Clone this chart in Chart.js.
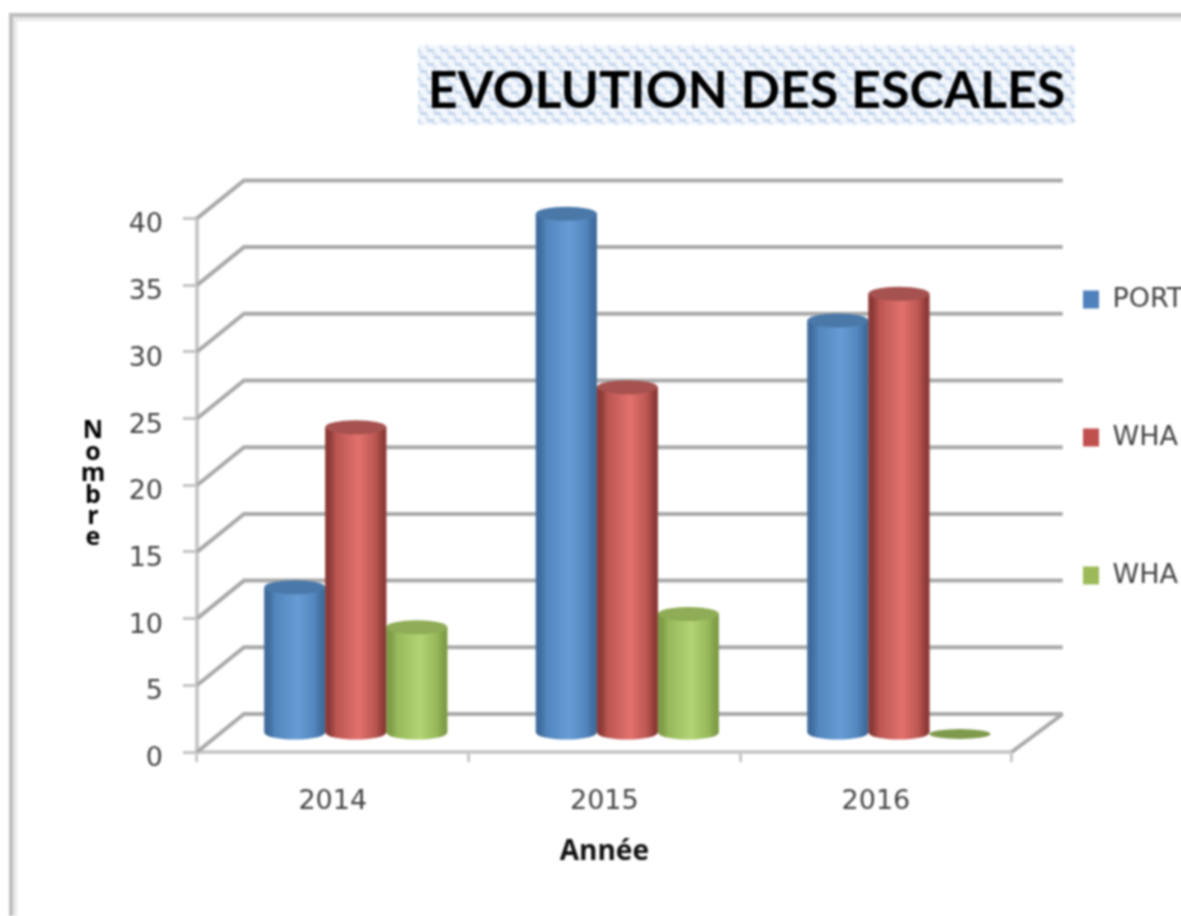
<!DOCTYPE html>
<html><head><meta charset="utf-8">
<style>html,body{margin:0;padding:0;background:#fff;overflow:hidden;width:1181px;height:916px}
canvas{display:block;filter:blur(1px)}</style>
<script src="https://cdn.jsdelivr.net/npm/chart.js@4/dist/chart.umd.min.js"></script>
</head><body><canvas id="c" width="1233" height="916"></canvas>
<script>
const categories = ["2014", "2015", "2016"];
const seriesNames = ["PORT", "WHA", "WHA"];
const port = [11, 39, 31];
const wharfA = [23, 26, 33];
const wharfB = [8, 9, 0];
const chartTitle = "EVOLUTION DES ESCALES";
const xTitle = "Année";
const yTitle = "Nombre";
const flat = ["#5b8fc8", "#cf5f5a", "#9bbb59"];
const shades = [
  {dark:"#3f6c9c", mid:"#5286bd", light:"#669cd5", cap:"#4a79a9"},
  {dark:"#8c3a37", mid:"#bb5652", light:"#e2716c", cap:"#a65250"},
  {dark:"#7f9c48", mid:"#98b95b", light:"#b3d473", cap:"#8fac56"}
];
const legendFill = ["#4f81bd", "#c0504d", "#9bbb59"];
const BAR_DX = 23, BAR_DY = -18, WALL_DX = 47, WALL_DY = -38, CAP = 7;

const dec = {
  id: "dec",
  afterLayout(chart) {
    const t = chart.titleBlock; t.left = 418; t.right = 1075;
    const l = chart.legend; l.left = 1083 - l.options.labels.padding; l.top = 299 - 13 - l.options.labels.padding;
  },
  beforeDraw(chart) {
    const c = chart.ctx;
    c.save();
    c.fillStyle = "#e8e8e8"; c.fillRect(13, 17, chart.width, 4); c.fillRect(13, 17, 4, 900);
    c.fillStyle = "#bdbdbd"; c.fillRect(9, 13, chart.width, 4); c.fillRect(9, 13, 4, 903);
    const p = document.createElement("canvas"); p.width = 14; p.height = 14;
    const q = p.getContext("2d");
    q.fillStyle = "#f4f8fd"; q.fillRect(0, 0, 14, 14);
    q.fillStyle = "#c3d5ec"; q.fillRect(0, 0, 7, 3); q.fillRect(7, 7, 7, 3);
    q.fillStyle = "#dde7f4"; q.fillRect(5, 3, 4, 4); q.fillRect(0, 10, 3, 4); q.fillRect(12, 10, 2, 4);
    c.fillStyle = c.createPattern(p, "repeat");
    c.fillRect(418, 45, 657, 80);
    c.restore();
  },
  beforeDatasetsDraw(chart) {
    const c = chart.ctx, y = chart.scales.y, a = chart.chartArea;
    c.save();
    c.strokeStyle = "#a9a9a9"; c.lineWidth = 4; c.lineJoin = "miter";
    y.ticks.forEach((t, i) => {
      const py = y.getPixelForTick(i);
      c.beginPath(); c.moveTo(a.left, py); c.lineTo(a.left + WALL_DX, py + WALL_DY);
      c.lineTo(a.right + WALL_DX + 4, py + WALL_DY); c.stroke();
    });
    const by = y.getPixelForValue(0);
    c.beginPath(); c.moveTo(a.right, by); c.lineTo(a.right + WALL_DX + 4, by + WALL_DY); c.stroke();
    c.restore();
    c.save(); c.translate(BAR_DX, BAR_DY);
  },
  afterDatasetsDraw(chart) {
    const c = chart.ctx;
    chart.data.datasets.forEach((ds, di) => {
      const s = shades[di];
      chart.getDatasetMeta(di).data.forEach((el) => {
        const w = el.width, l = el.x - w / 2, r = el.x + w / 2;
        if (el.y >= el.base - 0.5) {
          c.fillStyle = "#7f9a4d"; c.beginPath();
          c.ellipse(el.x, el.base, w / 2, 5, 0, 0, Math.PI * 2); c.fill();
          return;
        }
        const g = c.createLinearGradient(l, 0, r, 0);
        g.addColorStop(0, s.dark); g.addColorStop(0.07, s.dark); g.addColorStop(0.18, s.mid);
        g.addColorStop(0.55, s.light); g.addColorStop(0.82, s.mid); g.addColorStop(0.95, s.dark); g.addColorStop(1, s.dark);
        c.fillStyle = g;
        c.beginPath();
        c.moveTo(l, el.y); c.lineTo(l, el.base);
        c.ellipse(el.x, el.base, w / 2, CAP, 0, Math.PI, 0, true);
        c.lineTo(r, el.y); c.closePath(); c.fill();
        c.fillStyle = s.cap; c.beginPath();
        c.ellipse(el.x, el.y, w / 2, CAP, 0, 0, Math.PI * 2); c.fill();
      });
    });
    c.restore();
  },
  afterDraw(chart) {
    const c = chart.ctx;
    c.save();
    c.font = "bold 25px 'Open Sans'"; c.fillStyle = "#000"; c.textAlign = "center"; c.textBaseline = "middle";
    const ys = [431, 453, 474, 496, 517, 538];
    [...yTitle].forEach((ch, i) => c.fillText(ch, 93, ys[i]));
    c.restore();
  }
};

new Chart(document.getElementById("c"), {
  type: "bar",
  data: {
    labels: categories,
    datasets: [
      {label: seriesNames[0], data: port, backgroundColor: flat[0]},
      {label: seriesNames[1], data: wharfA, backgroundColor: flat[1]},
      {label: seriesNames[2], data: wharfB, backgroundColor: flat[2]}
    ]
  },
  options: {
    responsive: false, animation: false,
    layout: {padding: {right: 0}},
    datasets: {bar: {barPercentage: 1, categoryPercentage: 0.674, borderWidth: 0}},
    plugins: {
      tooltip: {enabled: false},
      title: {display: true, text: chartTitle, color: "#000",
        font: {family: "Lato", weight: "bold", size: 52, lineHeight: 1.2},
        padding: {top: 60, bottom: 96}},
      legend: {position: "right", align: "start",
        labels: {boxWidth: 16, boxHeight: 18, padding: 111, color: "#444",
          font: {family: "DejaVu Sans", size: 27},
          generateLabels(chart) {
            return chart.data.datasets.map((d, i) => ({text: d.label, fillStyle: legendFill[i], strokeStyle: legendFill[i], lineWidth: 0, datasetIndex: i, fontColor: "#444"}));
          }}}
    },
    scales: {
      x: {
        afterFit(s) { s.height = 164; },
        border: {color: "#c9c9c9", width: 4},
        grid: {display: true, drawOnChartArea: false, drawTicks: true, tickLength: 10, color: "#c9c9c9", lineWidth: 3},
        ticks: {color: "#444", font: {family: "DejaVu Sans", size: 27}, padding: 24, maxRotation: 0},
        title: {display: true, text: xTitle, color: "#111", font: {family: "Open Sans", weight: "bold", size: 28}, padding: {top: 0, bottom: 47}}
      },
      y: {
        min: 0, max: 40,
        afterFit(s) { s.width = 197; },
        border: {color: "#c9c9c9", width: 4},
        grid: {display: true, drawOnChartArea: false, tickLength: 14, color: "#c4c4c4", lineWidth: 3},
        ticks: {stepSize: 5, color: "#444", font: {family: "DejaVu Sans", size: 27}, padding: 20, labelOffset: 7}
      }
    }
  },
  plugins: [dec]
});
</script></body></html>
